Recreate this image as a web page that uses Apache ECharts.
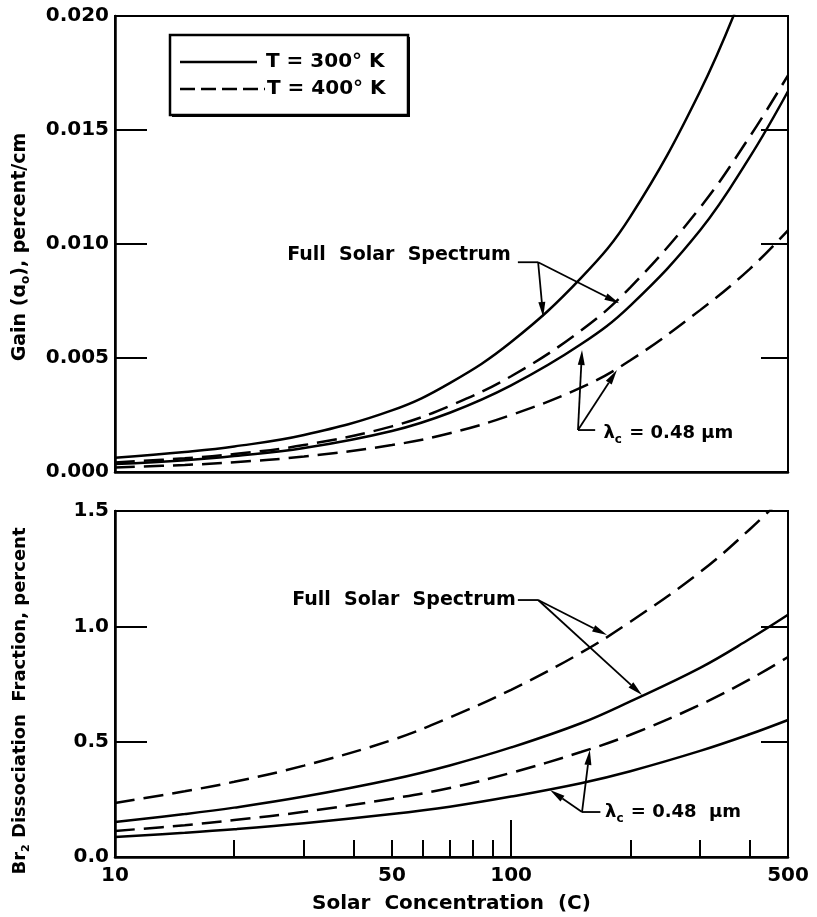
<!DOCTYPE html>
<html>
<head>
<meta charset="utf-8">
<script src="https://cdn.jsdelivr.net/npm/echarts@6/dist/echarts.min.js"></script>
<style>
  html, body { margin: 0; padding: 0; background: #fff; }
  #chart { width: 817px; height: 917px; }
</style>
</head>
<body>
<div id="chart"></div>
<script>
// solar concentration (C), shared by every curve
const concentration = [10, 15, 20, 30, 50, 70, 100, 150, 200, 300, 400, 500];

// gain (a0), percent/cm
const gainFull300 = [0.00062, 0.00088, 0.00112, 0.00162, 0.0027, 0.0039, 0.0057, 0.0085, 0.0112, 0.0167, 0.0218, null];
const gainFull400 = [0.00042, 0.0006, 0.00079, 0.00118, 0.0020, 0.0029, 0.0042, 0.0062, 0.0081, 0.0116, 0.0147, 0.0174];
const gainCut300 = [0.00035, 0.00052, 0.0007, 0.00105, 0.0018, 0.0026, 0.0038, 0.0056, 0.0073, 0.0106, 0.0138, 0.0167];
const gainCut400 = [0.0002, 0.00031, 0.00043, 0.00068, 0.00118, 0.0017, 0.0025, 0.0037, 0.0049, 0.0071, 0.0089, 0.0106];

// Br2 dissociation fraction, percent
const dissFull300 = [0.152, 0.186, 0.214, 0.262, 0.336, 0.397, 0.475, 0.58, 0.675, 0.82, 0.945, 1.05];
const dissFull400 = [0.234, 0.285, 0.326, 0.396, 0.507, 0.605, 0.725, 0.885, 1.02, 1.235, 1.42, 1.58];
const dissCut300 = [0.087, 0.105, 0.12, 0.146, 0.186, 0.218, 0.262, 0.32, 0.372, 0.46, 0.532, 0.594];
const dissCut400 = [0.113, 0.138, 0.16, 0.196, 0.253, 0.299, 0.365, 0.455, 0.53, 0.66, 0.77, 0.867];

// tick labels
const xLabelValues = [10, 50, 100, 500];
const xMinorTicks = [20, 30, 40, 50, 60, 70, 80, 90, 200, 300, 400];
const xMajorTicks = [100];
const gainRightTicks = [0.005, 0.010, 0.015];
const dissRightTicks = [0.5, 1.0];

const FONT = "DejaVu Sans";
const chart = echarts.init(document.getElementById("chart"));

const pairs = (vals) => concentration.map((c, i) => [c, vals[i]]).filter(p => p[1] != null);

const curve = (vals, dashed, xi, yi) => ({
  type: "line",
  xAxisIndex: xi,
  yAxisIndex: yi,
  data: pairs(vals),
  smooth: 0.4,
  showSymbol: false,
  silent: true,
  lineStyle: { color: "#000", width: 2.5, type: dashed ? [20, 9] : "solid" },
});

const logX = (grid, extra) => Object.assign({
  type: "log",
  logBase: 10,
  gridIndex: grid,
  position: "bottom",
  min: 10,
  max: 500,
  axisLine: { show: true, onZero: false, lineStyle: { color: "#000", width: 2.5 } },
  axisTick: { show: false },
  axisLabel: { show: false },
  splitLine: { show: false },
  minorTick: { show: false },
}, extra);

const valY = (grid, min, max, interval, extra) => Object.assign({
  type: "value",
  gridIndex: grid,
  min: min,
  max: max,
  interval: interval,
  axisLine: { show: true, lineStyle: { color: "#000", width: 2.5 } },
  axisTick: { show: true, inside: true, length: 32, lineStyle: { color: "#000", width: 2 } },
  axisLabel: { show: false },
  splitLine: { show: false },
}, extra);

const labelStyle = { color: "#000", fontFamily: FONT, fontSize: 20, fontWeight: "bold" };

chart.setOption({
  animation: false,
  backgroundColor: "#fff",
  grid: [
    { left: 115, right: 29, top: 16, height: 456, show: true, borderColor: "#000", borderWidth: 2 },
    { left: 115, right: 29, top: 511, height: 346, show: true, borderColor: "#000", borderWidth: 2 },
  ],
  xAxis: [
    logX(0),
    logX(1, {
      axisTick: { show: true, inside: true, length: 17, customValues: xMinorTicks, lineStyle: { color: "#000", width: 2 } },
      axisLabel: Object.assign({ show: true, customValues: xLabelValues, margin: 9,
        formatter: (v) => String(Math.round(v)) }, labelStyle),
      name: "Solar  Concentration  (C)",
      nameLocation: "middle",
      nameGap: 37,
      nameTextStyle: { color: "#000", fontFamily: FONT, fontSize: 20, fontWeight: "bold", verticalAlign: "top" },
    }),
    logX(1, {
      axisLine: { show: false, onZero: false },
      axisTick: { show: true, inside: true, length: 37, customValues: xMajorTicks, lineStyle: { color: "#000", width: 2 } },
    }),
  ],
  yAxis: [
    valY(0, 0, 0.02, 0.005, {
      axisLabel: Object.assign({ show: true, margin: 6, formatter: (v) => v.toFixed(3) }, labelStyle),
    }),
    valY(0, 0, 0.02, 0.005, {
      position: "right",
      axisLine: { show: false },
      axisTick: { show: true, inside: true, length: 27, customValues: gainRightTicks, lineStyle: { color: "#000", width: 2 } },
    }),
    valY(1, 0, 1.5, 0.5, {
      axisLabel: Object.assign({ show: true, margin: 6, formatter: (v) => v.toFixed(1) }, labelStyle),
    }),
    valY(1, 0, 1.5, 0.5, {
      position: "right",
      axisLine: { show: false },
      axisTick: { show: true, inside: true, length: 27, customValues: dissRightTicks, lineStyle: { color: "#000", width: 2 } },
    }),
  ],
  series: [
    curve(gainFull300, false, 0, 0),
    curve(gainFull400, true, 0, 0),
    curve(gainCut300, false, 0, 0),
    curve(gainCut400, true, 0, 0),
    curve(dissFull400, true, 1, 2),
    curve(dissFull300, false, 1, 2),
    curve(dissCut400, true, 1, 2),
    curve(dissCut300, false, 1, 2),
  ],
});

// annotations, placed in data coordinates and converted to pixels
const topFinder = { xAxisIndex: 0, yAxisIndex: 0 };
const botFinder = { xAxisIndex: 1, yAxisIndex: 2 };
const px = (finder, p) => chart.convertToPixel(finder, p);

const txtStyle = { fill: "#000", fontFamily: FONT, fontSize: 20, fontWeight: "bold" };
const noteStyle = Object.assign({}, txtStyle, { fontSize: 19 });
const lambdaRich = {
  l: { fontFamily: FONT, fontSize: 18, fontWeight: "bold", lineHeight: 26, fill: "#000" },
  s: { fontFamily: FONT, fontSize: 12, fontWeight: "bold", lineHeight: 26, verticalAlign: "bottom", padding: [12, 1, 0, 0], fill: "#000" },
};

function segment(a, b) {
  return { type: "line", silent: true, shape: { x1: a[0], y1: a[1], x2: b[0], y2: b[1] }, style: { stroke: "#000", lineWidth: 1.8 } };
}
function arrow(a, b) {
  const dx = b[0] - a[0], dy = b[1] - a[1];
  const len = Math.hypot(dx, dy), ux = dx / len, uy = dy / len;
  const bx = b[0] - ux * 15, by = b[1] - uy * 15;
  return [
    segment(a, [bx, by]),
    { type: "polygon", silent: true, style: { fill: "#000" },
      shape: { points: [[b[0], b[1]], [bx - uy * 3.5, by + ux * 3.5], [bx + uy * 3.5, by - ux * 3.5]] } },
  ];
}
function callout(finder, label, corner, barEnd, targets, rich) {
  const c = px(finder, corner), e = px(finder, barEnd), t = px(finder, label.at);
  const els = [segment(c, e)];
  targets.forEach(tg => els.push(...arrow(c, px(finder, tg))));
  els.push({
    type: "text", x: t[0], y: t[1], silent: true,
    style: rich
      ? { text: label.text, rich: rich, verticalAlign: "middle", align: "left" }
      : Object.assign({ text: label.text, verticalAlign: "middle", align: "left" }, noteStyle),
  });
  return els;
}

const graphics = [];
graphics.push(...callout(topFinder, { at: [27.2, 0.0095], text: "Full  Solar  Spectrum" },
  [117, 0.0092], [104, 0.0092], [[120.5, 0.0068], [187.5, 0.0074]]));
graphics.push(...callout(topFinder, { at: [171, 0.00171], text: "{l|λ}{s|c}{l| = 0.48 μm}" },
  [147.5, 0.00184], [163, 0.00184], [[151, 0.00535], [185, 0.00447]], lambdaRich));
graphics.push(...callout(botFinder, { at: [28, 1.114], text: "Full  Solar  Spectrum" },
  [117, 1.114], [104, 1.114], [[174.6, 0.962], [214, 0.702]]));
graphics.push(...callout(botFinder, { at: [172.6, 0.195], text: "{l|λ}{s|c}{l| = 0.48  μm}" },
  [151, 0.195], [168, 0.195], [[158, 0.464], [125.4, 0.29]], lambdaRich));

// legend box
graphics.push(
  { type: "rect", silent: true, shape: { x: 172, y: 37, width: 238, height: 80 }, style: { fill: "#000" } },
  { type: "rect", silent: true, shape: { x: 170, y: 35, width: 238, height: 80 }, style: { fill: "#fff", stroke: "#000", lineWidth: 2.5 } },
  { type: "line", silent: true, shape: { x1: 180, y1: 62, x2: 257, y2: 62 }, style: { stroke: "#000", lineWidth: 2.5 } },
  { type: "line", silent: true, shape: { x1: 180, y1: 89, x2: 265, y2: 89 }, style: { stroke: "#000", lineWidth: 2.5, lineDash: [15, 6] } },
  { type: "text", silent: true, x: 266, y: 62, style: Object.assign({ text: "T = 300° K", verticalAlign: "middle" }, txtStyle) },
  { type: "text", silent: true, x: 267, y: 89, style: Object.assign({ text: "T = 400° K", verticalAlign: "middle" }, txtStyle) },
);

// rotated y axis titles
const titleRich = (size) => ({
  t: { fontFamily: FONT, fontSize: size, fontWeight: "bold", lineHeight: 24, fill: "#000" },
  s: { fontFamily: FONT, fontSize: Math.round(size * 0.62), fontWeight: "bold", lineHeight: 24, verticalAlign: "bottom", padding: [10, 0, 0, 0], fill: "#000" },
});
graphics.push(
  { type: "text", silent: true, x: 20, y: 247, rotation: Math.PI / 2,
    style: { text: "{t|Gain (ɑ}{s|o}{t|), percent/cm}", align: "center", verticalAlign: "middle", rich: titleRich(19) } },
  { type: "text", silent: true, x: 20, y: 701, rotation: Math.PI / 2,
    style: { text: "{t|Br}{s|2}{t| Dissociation  Fraction, percent}", align: "center", verticalAlign: "middle", rich: titleRich(18) } },
);

chart.setOption({ graphic: graphics });

window.addEventListener("resize", () => chart.resize());
</script>
</body>
</html>
